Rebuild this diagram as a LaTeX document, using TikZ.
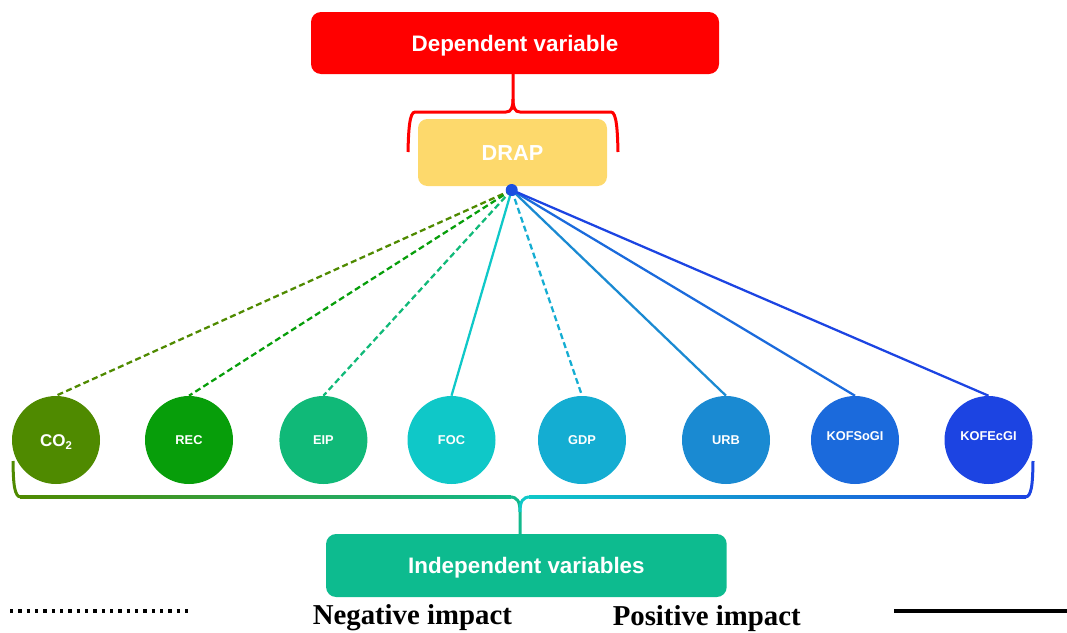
\documentclass[tikz,border=0pt]{standalone}
\usepackage{fontspec}
\setmainfont{Liberation Sans}
\newfontfamily\legendfont{Liberation Serif}
\definecolor{depred}{HTML}{FF0000}
\definecolor{drapy}{HTML}{FDD96C}
\definecolor{hubc}{HTML}{1C4FE0}
\definecolor{co2c}{HTML}{4F8A00}
\definecolor{recc}{HTML}{079E0A}
\definecolor{eipc}{HTML}{10B978}
\definecolor{focc}{HTML}{0FC8C8}
\definecolor{gdpc}{HTML}{14ADD2}
\definecolor{urbc}{HTML}{1A8AD2}
\definecolor{kofsc}{HTML}{1B6ADC}
\definecolor{kofec}{HTML}{1C44E2}
\definecolor{indg}{HTML}{0DBB8F}
\definecolor{stemc}{HTML}{12B98C}
\begin{document}
\begin{tikzpicture}[x=0.75pt,y=-0.75pt,
  bigbox/.style={rectangle, rounded corners=7.5pt, inner sep=0pt, text=white,
    font=\fontsize{16.8}{20}\selectfont\bfseries, text height=12pt, text depth=0pt},
  varc/.style={circle, inner sep=0pt, minimum size=66pt, text=white,
    font=\fontsize{9.6}{11}\selectfont\bfseries, text height=6.9pt, text depth=0pt},
  negline/.style={line width=1.7pt, dash pattern=on 4.5pt off 2.6pt},
  posline/.style={line width=1.7pt},
  bracestroke/.style={line width=2.25pt},
  legendtext/.style={inner sep=0pt, font=\legendfont\bfseries\fontsize{21.6}{24}\selectfont}
]
\useasboundingbox (0,0) rectangle (1067,632);

% boxes
\node[bigbox, fill=depred, minimum width=306pt, minimum height=46.5pt] (dep) at (515,43) {Dependent variable};
\node[bigbox, fill=drapy, minimum width=141.75pt, minimum height=50.25pt,
  font=\fontsize{16.3}{20}\selectfont\bfseries, text height=11.7pt, rounded corners=7pt] (drap) at (512.5,152.5) {DRAP};
\node[bigbox, fill=indg, minimum width=300.5pt, minimum height=47.25pt] (ind) at (526.4,565.5) {Independent variables};

% top brace
\draw[depred, bracestroke] (408,152) .. controls (408.5,130) and (409.5,112) .. (415,112) -- (506,112)
  .. controls (511,112) and (513,108) .. (513,99) -- (513,74);
\draw[depred, bracestroke] (618,152) .. controls (617.5,130) and (616.5,112) .. (611,112) -- (520,112)
  .. controls (515,112) and (513,108) .. (513,99);

% variable circles
\node[varc, fill=co2c, font=\fontsize{12.75}{14}\selectfont\bfseries, text height=9.1pt] (co2) at (56,440)
  {CO\raisebox{-0.35ex}{\fontsize{8.5}{9}\selectfont 2}};
\node[varc, fill=recc] (rec) at (189,440) {REC};
\node[varc, fill=eipc] (eip) at (323.4,440) {EIP};
\node[varc, fill=focc] (foc) at (451.5,440) {FOC};
\node[varc, fill=gdpc] (gdp) at (582,440) {GDP};
\node[varc, fill=urbc] (urb) at (726,440) {URB};
\node[varc, fill=kofsc] (kofs) at (855,440) {\raisebox{3pt}{KOFSoGI}};
\node[varc, fill=kofec] (kofe) at (988.5,440) {\raisebox{3pt}{KOFEcGI}};

% connectors
\coordinate (hub) at (511.7,190);
\draw[negline, co2c] (hub) -- (co2.north);
\draw[negline, recc] (hub) -- (rec.north);
\draw[negline, eipc] (hub) -- (eip.north);
\draw[posline, focc] (hub) -- (foc.north);
\draw[negline, gdpc] (hub) -- (gdp.north);
\draw[posline, urbc] (hub) -- (urb.north);
\draw[posline, kofsc] (hub) -- (kofs.north);
\draw[posline, kofec] (hub) -- (kofe.north);
\node[circle, fill=hubc, inner sep=0pt, minimum size=9pt] (dot) at (hub) {};

% bottom brace
\draw[co2c, bracestroke] (13,461) .. controls (13.3,485) and (14.5,497) .. (21,497);
\shade[left color=co2c, middle color=recc, right color=stemc] (20,495.5) rectangle (511,498.5);
\draw[stemc, bracestroke] (510,497) .. controls (517,497) and (520,501) .. (520,512) -- (520,534);
\draw[focc, bracestroke] (530,497) .. controls (523,497) and (520,501) .. (520,512);
\shade[left color=focc, middle color=urbc, right color=kofec] (529,495.5) rectangle (1026,498.5);
\draw[kofec, bracestroke] (1033,461) .. controls (1032.7,485) and (1031.5,497) .. (1025,497);

% legend
\coordinate (dl1) at (10,611);
\coordinate (dl2) at (189,611);
\draw[line width=3pt, dash pattern=on 2.5pt off 3.75pt] (dl1) -- (dl2);
\coordinate (sl1) at (894,611);
\coordinate (sl2) at (1067,611);
\draw[line width=3pt] (sl1) -- (sl2);
\node[legendtext, anchor=base west] (negl) at (312.5,624.5) {Negative impact};
\node[legendtext, anchor=base west] (posl) at (612.5,625) {Positive impact};
\end{tikzpicture}
\end{document}
